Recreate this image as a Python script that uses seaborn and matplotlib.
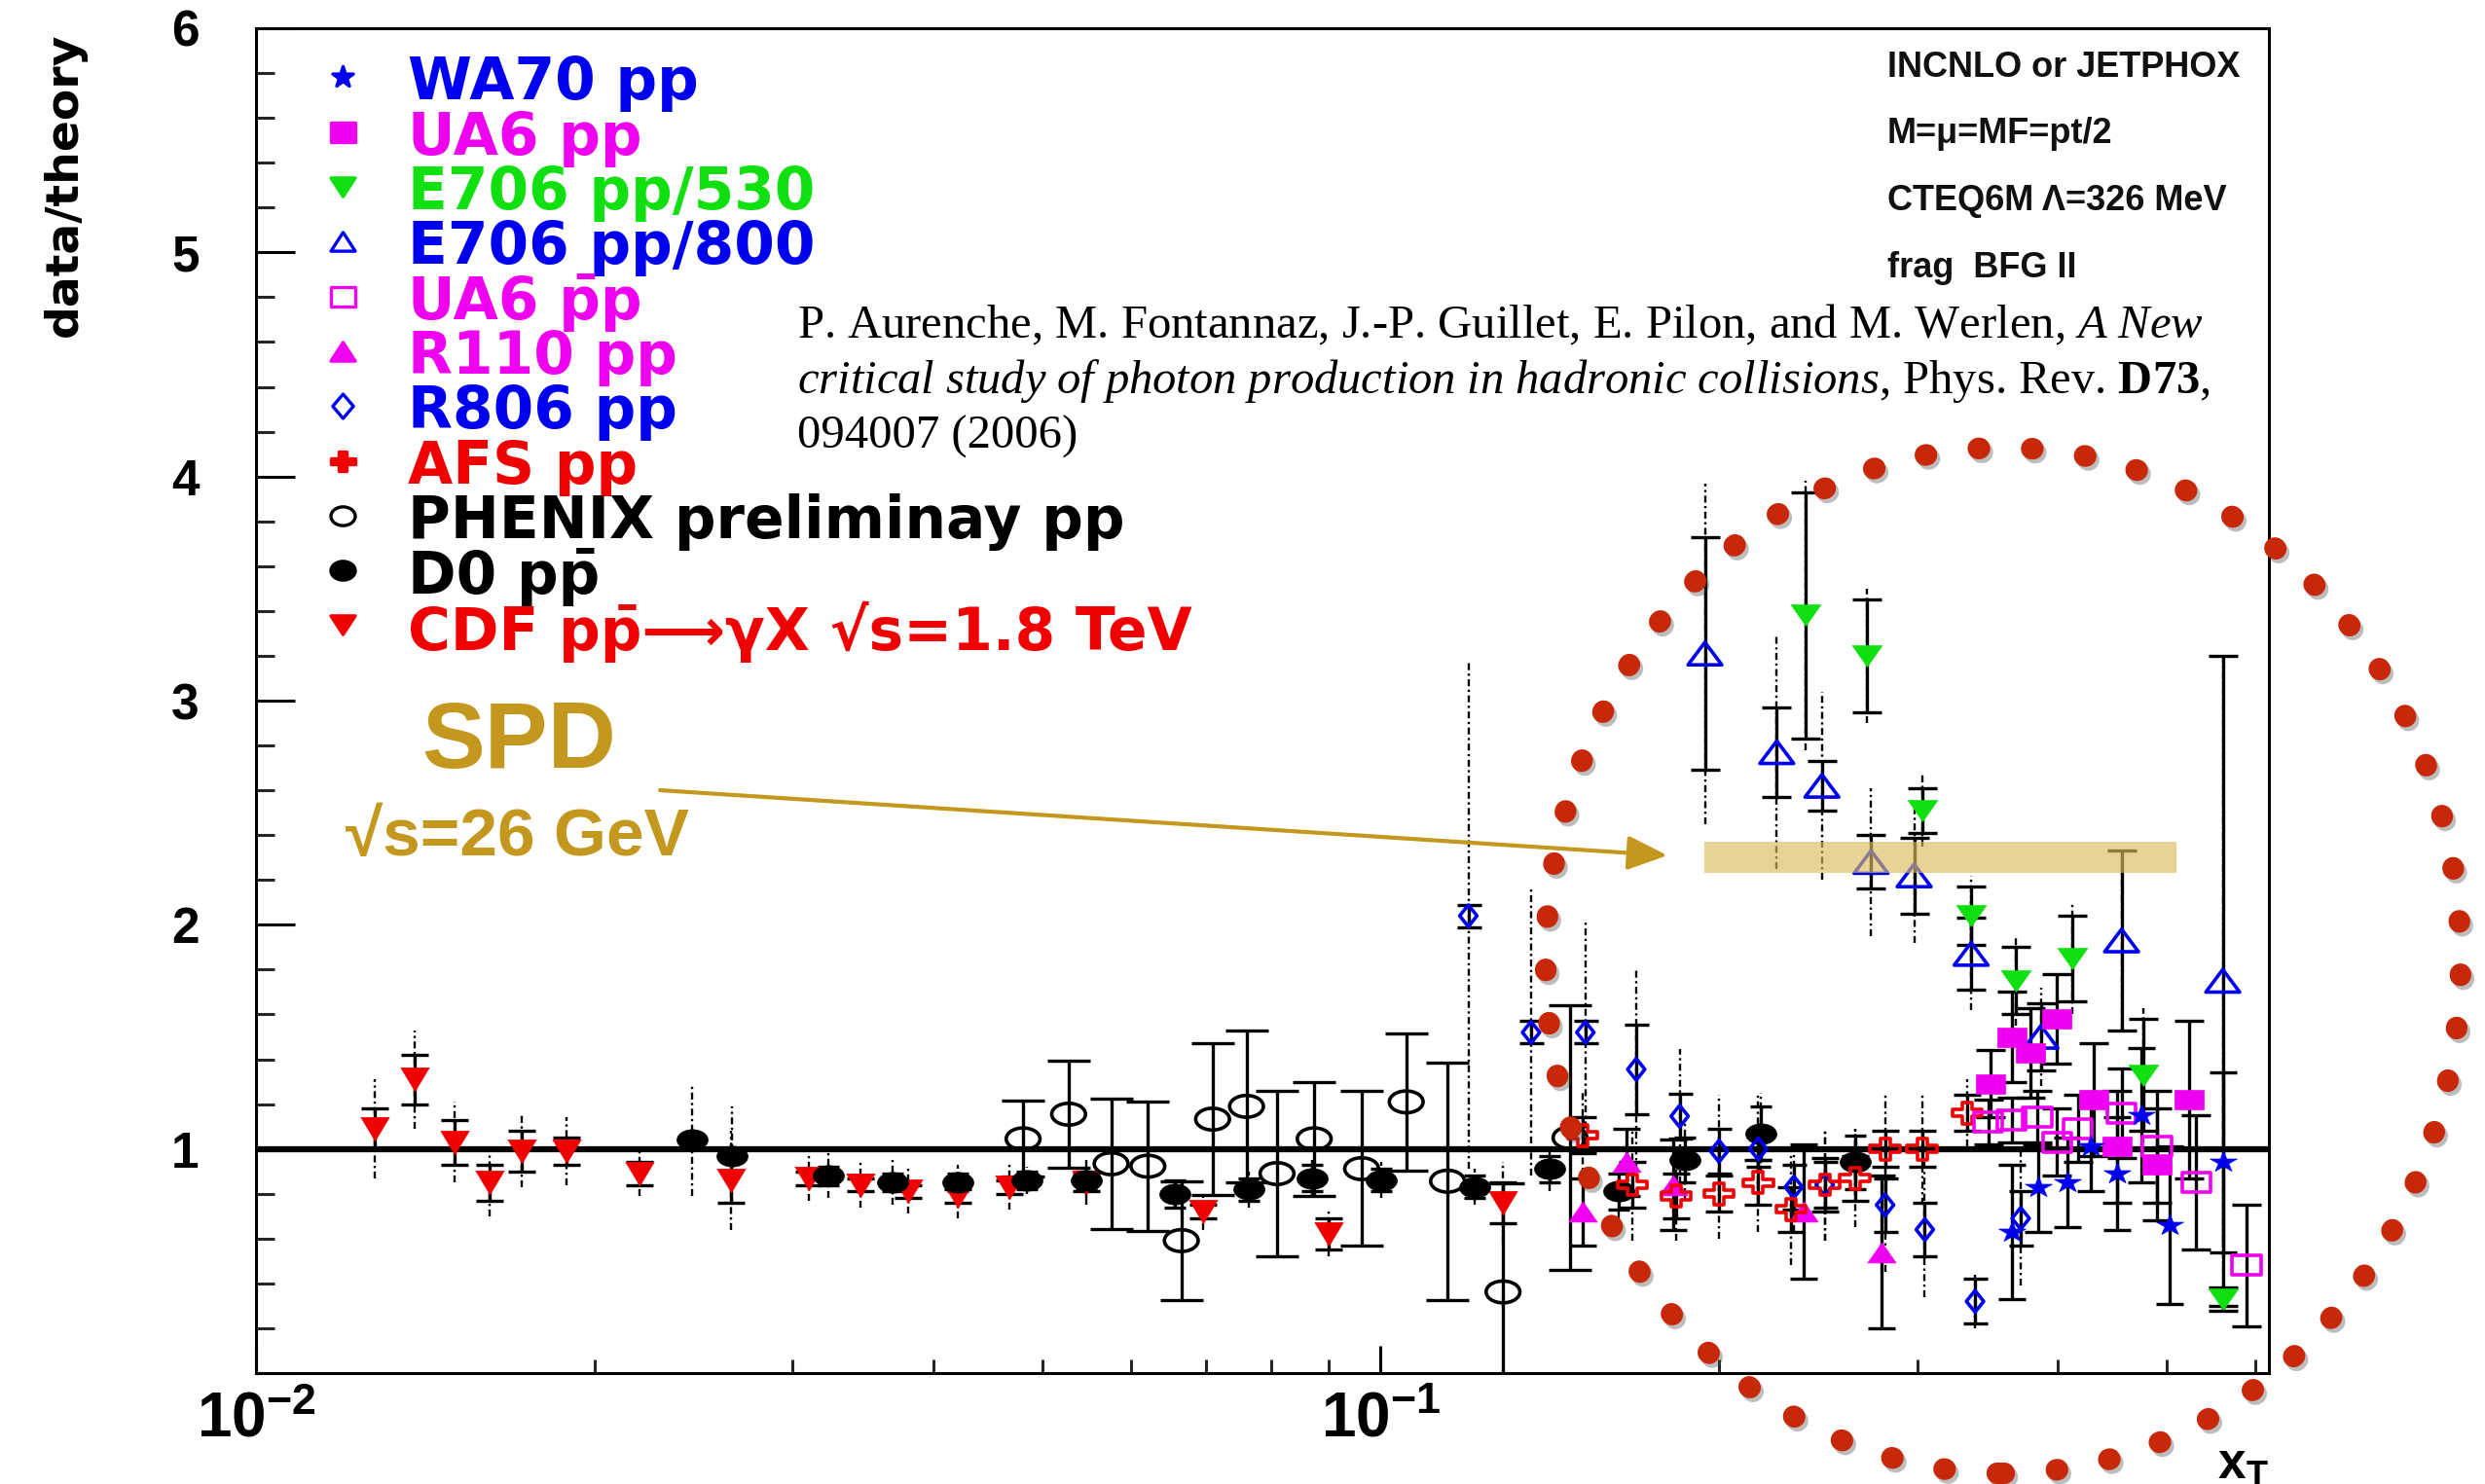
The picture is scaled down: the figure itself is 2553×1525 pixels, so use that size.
import numpy as np
import pandas as pd
import matplotlib
matplotlib.use("Agg")
import matplotlib.pyplot as plt
import seaborn as sns
from matplotlib.patches import Ellipse
from matplotlib.markers import MarkerStyle
from matplotlib.transforms import Affine2D
from matplotlib.ticker import NullFormatter, MultipleLocator

# ---------------- data ----------------
cdf_x = [0.01275, 0.01384, 0.01503, 0.01612, 0.01724, 0.01888, 0.02193, 0.02646, 0.0310, 0.0345,
         0.0380, 0.0421, 0.0468, 0.0547, 0.0695, 0.0900, 0.1285]
cdf_y = [1.09, 1.31, 1.03, 0.85, 0.99, 0.99, 0.89, 0.86, 0.87, 0.84, 0.81, 0.79, 0.83, 0.85, 0.72, 0.62, 0.76]
cdf_e = [0.09, 0.11, 0.10, 0.08, 0.09, 0.06, 0.05, 0.10, 0.03, 0.03, 0.03, 0.03, 0.03, 0.04, 0.03, 0.07, 0.09]
cdf_s = [0.22, 0.22, 0.18, 0.15, 0.16, 0.15, 0.10, 0.22, 0.10, 0.10, 0.10, 0.10, 0.10, 0.10, 0.08, 0.10, 0.18]

d0_x = [0.0244, 0.0265, 0.0323, 0.0368, 0.0421, 0.0485, 0.0547, 0.0656, 0.0764, 0.0869, 0.1001,
        0.1212, 0.1415, 0.1628, 0.1864, 0.2180, 0.2642]
d0_y = [1.04, 0.97, 0.88, 0.85, 0.85, 0.86, 0.86, 0.80, 0.82, 0.87, 0.86, 0.83, 0.91, 0.81, 0.95, 1.07, 0.94]
d0_e = [0.03, 0.03, 0.04, 0.04, 0.04, 0.04, 0.04, 0.06, 0.05, 0.06, 0.05, 0.05, 0.06, 0.08, 0.10, 0.12, 0.12]
d0_s = [0.25, 0.22, 0.10, 0.10, 0.08, 0.06, 0.08, 0.06, 0.08, 0.08, 0.08, 0.08, 0.10, 0.12, 0.18, 0.18, 0.15]

phenix_x = [0.0481, 0.0528, 0.0576, 0.0621, 0.0665, 0.0709, 0.0760, 0.0809, 0.0873, 0.0962, 0.1054,
            0.1147, 0.1285, 0.1474]
phenix_y = [1.045, 1.155, 0.934, 0.923, 0.591, 1.133, 1.19, 0.89, 1.045, 0.912, 1.21, 0.856, 0.362, 1.05]
phenix_e = [0.17, 0.24, 0.29, 0.29, 0.265, 0.34, 0.34, 0.37, 0.255, 0.345, 0.305, 0.53, 0.485, 0.59]

e800_x = [0.1943, 0.2251, 0.2469, 0.2730, 0.2982, 0.3351, 0.3866, 0.456, 0.561]
e800_y = [3.21, 2.77, 2.62, 2.28, 2.22, 1.87, 1.50, 1.93, 1.75]
e800_e = [0.52, 0.20, 0.11, 0.12, 0.17, 0.16, 0.15, 0.40, 1.45]
e800_s = [0.76, 0.52, 0.42, 0.33, 0.30, 0.25, 0.22, 0.40, 1.45]

e530_x = [0.2389, 0.2705, 0.3031, 0.3351, 0.3674, 0.4123, 0.4772, 0.561]
e530_y = [3.38, 3.20, 2.51, 2.04, 1.75, 1.85, 1.33, 0.33]
e530_e = [0.55, 0.25, 0.10, 0.13, 0.15, 0.19, 0.25, 0.05]
e530_s = [0.60, 0.30, 0.16, 0.18, 0.20, 0.25, 0.30, 0.05]

ua6pp_x = [0.3488, 0.3642, 0.3784, 0.3994, 0.4307, 0.4521, 0.4903, 0.5232]
ua6pp_y = [1.29, 1.50, 1.43, 1.58, 1.22, 1.01, 0.93, 1.22]
ua6pp_e = [0.15, 0.20, 0.20, 0.20, 0.25, 0.25, 0.25, 0.35]

ua6pbp_x = [0.3471, 0.3642, 0.3837, 0.3994, 0.4168, 0.456, 0.4903, 0.5315, 0.589]
ua6pbp_y = [1.12, 1.13, 1.14, 1.03, 1.09, 1.16, 1.01, 0.85, 0.48]
ua6pbp_e = [0.10, 0.10, 0.12, 0.15, 0.15, 0.20, 0.25, 0.30, 0.27]

wa70_x = [0.3642, 0.3846, 0.4080, 0.4283, 0.4521, 0.4746, 0.5036, 0.561]
wa70_y = [0.63, 0.83, 0.85, 1.01, 0.89, 1.15, 0.66, 0.94]
wa70_e = [0.30, 0.20, 0.20, 0.20, 0.25, 0.30, 0.35, 0.40]

r806_x = [0.1197, 0.1361, 0.1521, 0.1688, 0.1845, 0.2000, 0.2167, 0.2331, 0.2483, 0.2810, 0.3048,
          0.3378, 0.3709]
r806_y = [2.04, 1.52, 1.52, 1.355, 1.146, 0.99, 1.0, 0.83, 0.84, 0.75, 0.64, 0.32, 0.69]
r806_e = [0.05, 0.05, 0.05, 0.20, 0.10, 0.10, 0.08, 0.10, 0.10, 0.12, 0.12, 0.10, 0.12]
r806_s = [1.13, 0.64, 0.50, 0.45, 0.30, 0.25, 0.25, 0.20, 0.25, 0.30, 0.30, 0.12, 0.30]

r110_x = [0.1513, 0.1656, 0.1822, 0.2379, 0.2792]
r110_y = [0.72, 0.94, 0.84, 0.72, 0.54]
r110_e = [0.15, 0.15, 0.20, 0.30, 0.34]

afs_x = [0.1513, 0.1675, 0.1831, 0.2000, 0.2167, 0.2318, 0.2483, 0.2642, 0.2810, 0.3031, 0.3323]
afs_y = [1.06, 0.84, 0.79, 0.80, 0.85, 0.73, 0.84, 0.87, 1.00, 1.00, 1.16]
afs_e = [0.08, 0.10, 0.10, 0.08, 0.10, 0.10, 0.12, 0.10, 0.08, 0.08, 0.08]
afs_s = [0.20, 0.25, 0.20, 0.20, 0.22, 0.25, 0.25, 0.22, 0.25, 0.25, 0.15]

legend_labels = ["WA70 pp", "UA6 pp", "E706 pp/530", "E706 pp/800", "UA6 p\u0304p", "R110 pp",
                 "R806 pp", "AFS pp", "PHENIX preliminay pp", "D0 pp\u0304",
                 "CDF pp\u0304\u27f6\u03b3X \u221as=1.8 TeV"]
legend_colors = ["#0000F0", "#F000F0", "#10E010", "#0000F0", "#F000F0", "#F000F0",
                 "#0000F0", "#F00000", "#000000", "#000000", "#F00000"]
legend_markers = ["*", "s", "v", "^", "s", "^", "D", "P", "o", "o", "v"]
legend_open = [False, False, False, True, True, False, True, False, True, False, False]

theory_lines = ["INCNLO or JETPHOX", "M=\u03bc=MF=pt/2", "CTEQ6M \u039b=326 MeV", "frag  BFG II"]
citation_lines = [r"P. Aurenche, M. Fontannaz, J.-P. Guillet, E. Pilon, and M. Werlen, $\mathit{A\ New}$",
                  r"$\mathit{critical\ study\ of\ photon\ production\ in\ hadronic\ collisions}$, Phys. Rev. $\mathbf{D73}$,",
                  "094007 (2006)"]

xtick_vals = [0.01, 0.1]
xtick_labels = [r"$\mathsf{10^{-2}}$", r"$\mathsf{10^{-1}}$"]
xminor_vals = [0.02, 0.03, 0.04, 0.05, 0.06, 0.07, 0.08, 0.09, 0.2, 0.3, 0.4, 0.5, 0.6]
ytick_vals = [0, 1, 2, 3, 4, 5, 6]
ytick_labels = ["", "1", "2", "3", "4", "5", "6"]

spd_band_x = [0.194, 0.51]
spd_band_y = [2.23, 2.37]

# ---------------- style ----------------
sns.set_theme(style="white")
plt.rcParams["font.family"] = ["DejaVu Sans"]
plt.rcParams.update({
    "mathtext.fontset": "custom",
    "mathtext.rm": "Liberation Serif",
    "mathtext.it": "Liberation Serif:italic",
    "mathtext.bf": "Liberation Serif:bold",
    "mathtext.sf": "Liberation Sans:bold",
})

W, H = 2553, 1525
fig = plt.figure(figsize=(W / 100, H / 100), dpi=100)
fig.patch.set_facecolor("white")
ax = fig.add_axes([263 / W, 1 - 1411 / H, 2068 / W, 1382 / H])
ax.set_facecolor("white")
ax.set_xscale("log")
ax.set_xlim(0.01, 0.6166)
ax.set_ylim(0, 6)
for sp in ax.spines.values():
    sp.set_color("black")
    sp.set_linewidth(2.2)


def stretched(m, sx):
    ms = MarkerStyle(m)
    p = ms.get_path().transformed(ms.get_transform())
    return p.transformed(Affine2D().scale(sx, 1.0))


RED, BLUE, MAG, GRN, BLK = "#F00000", "#0000F0", "#F000F0", "#10E010", "#000000"

series = [
    # x, y, stat, sys, marker, stretch, color, open, size(pt), capsize
    (cdf_x, cdf_y, cdf_e, cdf_s, "v", 1.2, RED, False, 21, 10),
    (d0_x, d0_y, d0_e, d0_s, "o", 1.5, BLK, False, 23, 8),
    (phenix_x, phenix_y, phenix_e, None, "o", 1.55, BLK, True, 25, 16),
    (r806_x, r806_y, r806_e, r806_s, "D", 0.8, BLUE, True, 16, 9),
    (r110_x, r110_y, r110_e, None, "^", 1.4, MAG, False, 21, 10),
    (afs_x, afs_y, afs_e, afs_s, "P", 1.4, RED, True, 22, 10),
    (e800_x, e800_y, e800_e, e800_s, "^", 1.5, BLUE, True, 25, 11),
    (e530_x, e530_y, e530_e, e530_s, "v", 1.4, GRN, False, 22, 11),
    (ua6pbp_x, ua6pbp_y, ua6pbp_e, None, "s", 1.45, MAG, True, 21, 11),
    (ua6pp_x, ua6pp_y, ua6pp_e, None, "s", 1.45, MAG, False, 21, 11),
    (wa70_x, wa70_y, wa70_e, None, "*", 1.3, BLUE, False, 20, 10),
]

ax.axhline(1.0, color="black", lw=4.5, zorder=2)

for (x, y, e, s, m, sx, c, op, ms, cs) in series:
    df = pd.DataFrame({"x": x, "y": y, "e": e})
    if s is not None:
        ss = np.array(s)
        ax.vlines(df["x"], df["y"] - ss, df["y"] + ss, colors="black", lw=1.7,
                  linestyles=(0, (3, 1.5, 1, 1.5)), zorder=2.4)
    ax.errorbar(df["x"], df["y"], yerr=df["e"], fmt="none", ecolor="black", elinewidth=2.4,
                capsize=cs, capthick=2.4, zorder=2.5)
    mk = stretched(m, sx)
    if op:
        sns.scatterplot(data=df, x="x", y="y", ax=ax, marker=mk, s=ms ** 2, color=c,
                        facecolor="none", edgecolor=c, linewidth=2.6, zorder=3, legend=False)
    else:
        sns.scatterplot(data=df, x="x", y="y", ax=ax, marker=mk, s=ms ** 2, color=c,
                        edgecolor=c, linewidth=0.5, zorder=3, legend=False)

# SPD band
ax.fill_between(spd_band_x, spd_band_y[0], spd_band_y[1], color="#DCBC5E", alpha=0.65, lw=0, zorder=6)

# ticks
ax.set_xticks(xtick_vals)
ax.set_xticklabels(xtick_labels, fontsize=46)
ax.set_xticks(xminor_vals, minor=True)
ax.xaxis.set_minor_formatter(NullFormatter())
ax.set_yticks(ytick_vals)
ax.set_yticklabels(ytick_labels, fontfamily="Liberation Sans", fontweight="bold", fontsize=37)
ax.yaxis.set_minor_locator(MultipleLocator(0.2))
ax.tick_params(axis="x", which="major", direction="in", length=20, width=2.2, pad=12,
               bottom=True, top=False, colors="black")
ax.tick_params(axis="x", which="minor", direction="in", length=10, width=2.2, bottom=True, top=False)
ax.tick_params(axis="y", which="major", direction="in", length=29, width=2.2, pad=42,
               left=True, right=False, colors="black")
ax.tick_params(axis="y", which="minor", direction="in", length=14, width=2.2, left=True, right=False)
ax.grid(False)

ax.set_ylabel("data/theory", loc="top", fontsize=34, fontweight="bold", color="black")
ax.yaxis.set_label_coords(-0.084, 0.997)
ax.set_xlabel(r"$\mathsf{x_T}$", loc="right", fontsize=37, color="black")
ax.xaxis.set_label_coords(1.0, -0.050)

# legend (drawn as text rows)
for i, (lab, col, m, op) in enumerate(zip(legend_labels, legend_colors, legend_markers, legend_open)):
    yy = 0.9635 - 0.04074 * i
    sx = 0.85 if m == "D" else (1.0 if m == "*" else 1.3)
    ax.plot([0.043], [yy], transform=ax.transAxes, marker=stretched(m, sx), ms=18 if m != "*" else 16,
            color=col, mfc="none" if op else col, mec=col, mew=2.4, ls="none", clip_on=False, zorder=5)
    ax.text(0.0754, yy, lab, transform=ax.transAxes, color=col, fontsize=43, fontweight="bold",
            fontfamily=["DejaVu Sans"], ha="left", va="center_baseline", zorder=5)

# theory text (top right)
for i, t in enumerate(theory_lines):
    ax.text(0.8105, 0.971 - 0.0497 * i, t, transform=ax.transAxes, fontsize=26, fontweight="bold",
            fontfamily="Liberation Sans", color="#111111", ha="left", va="center")

# citation
for i, t in enumerate(citation_lines):
    ax.text(0.2689, 0.7793 - 0.0416 * i, t, transform=ax.transAxes, fontsize=35,
            fontfamily="Liberation Serif", color="black", ha="left", va="center", zorder=7)

GOLD = "#C4981E"
ax.text(0.1306, 0.4684, "SPD", transform=ax.transAxes, fontsize=70, fontweight="bold",
        fontfamily="Liberation Sans", color=GOLD, ha="center", va="center", zorder=8)
ax.text(0.1296, 0.3980, "\u221as=26 GeV", transform=ax.transAxes, fontsize=50, fontweight="bold",
        fontfamily=["Liberation Sans", "DejaVu Sans"], color=GOLD, ha="center", va="center", zorder=8)
ax.annotate("", xy=(0.7012, 0.3849), xytext=(0.2007, 0.4334), xycoords="axes fraction",
            textcoords="axes fraction",
            arrowprops=dict(arrowstyle="-|>,head_length=1.4,head_width=0.6", color=GOLD, lw=3,
                            mutation_scale=18, shrinkA=0, shrinkB=0), zorder=8)

# red dotted ellipse marking the region (figure coordinates)
cx, cy, rx, ry = 2058 / W, 1 - 987 / H, 2 * 470 / W, 2 * 527 / H
for dx, dy, col, a in [(3, -4, "#444444", 0.35), (0, 0, "#C8280A", 1.0)]:
    el = Ellipse((cx + dx / W, cy + dy / H), rx, ry, transform=fig.transFigure, fill=False,
                 edgecolor=col, alpha=a, lw=16, linestyle=(0, (0.05, 2.42)), capstyle="round",
                 zorder=10)
    fig.add_artist(el)

fig.savefig("out.png", dpi=100, facecolor="white")
